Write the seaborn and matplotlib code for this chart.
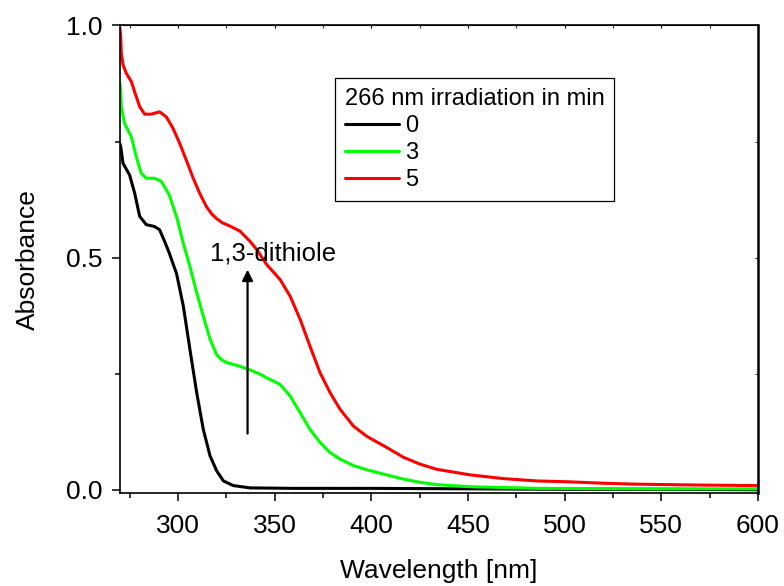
import numpy as np
import pandas as pd
import matplotlib
matplotlib.use("Agg")
import matplotlib.pyplot as plt
import seaborn as sns

# values (wavelength nm, absorbance)
wl_0 = [270.0, 270.4, 271.6, 275.0, 277.6, 280.2, 283.6, 287.9, 290.5, 293.1, 295.5, 299.3,
        302.8, 306.2, 309.7, 313.1, 316.6, 320.0, 323.5, 328.6, 337.3, 360, 400, 450, 500, 550, 600]
abs_0 = [0.745, 0.739, 0.703, 0.678, 0.639, 0.589, 0.571, 0.567, 0.560, 0.535, 0.51, 0.465,
         0.395, 0.302, 0.209, 0.130, 0.073, 0.041, 0.019, 0.009, 0.004, 0.003, 0.003, 0.002, 0.001, 0.001, 0.0]

wl_3 = [270.0, 270.4, 270.7, 272.4, 275.9, 278.4, 281.0, 283.6, 287.9, 291.4, 295.5, 299.5,
        302.8, 306.2, 309.7, 313.1, 316.6, 320.0, 322.5, 325.2, 332.1, 337.3, 342.5, 345.9, 352.8,
        358.0, 363.2, 368.3, 373.5, 378.7, 383.9, 390.8, 397.7, 408.0, 416.6, 425.3, 433.9,
        451.2, 485.7, 550, 600]
abs_3 = [0.875, 0.860, 0.825, 0.789, 0.760, 0.718, 0.682, 0.671, 0.671, 0.664, 0.635, 0.585,
         0.530, 0.481, 0.424, 0.374, 0.324, 0.291, 0.280, 0.274, 0.266, 0.258, 0.249, 0.241, 0.227,
         0.202, 0.166, 0.130, 0.102, 0.080, 0.066, 0.052, 0.043, 0.032, 0.023, 0.016, 0.011,
         0.0065, 0.003, 0.002, 0.002]

wl_5 = [270.0, 270.4, 270.7, 271.6, 273.3, 275.9, 277.6, 280.2, 282.8, 286.2, 290.5, 294.0,
        297.4, 300.9, 304.3, 307.8, 311.2, 314.7, 317.5, 320.0, 323.0, 326.9, 332.1, 337.3, 340.8, 345.9,
        352.8, 358.0, 363.2, 368.3, 373.5, 378.7, 383.9, 390.8, 397.7, 408.0, 416.6, 425.3,
        433.9, 451.2, 468.4, 485.7, 503.0, 520.2, 537.4, 571.9, 600.0]
abs_5 = [0.995, 0.976, 0.94, 0.915, 0.897, 0.879, 0.857, 0.825, 0.809, 0.809, 0.814, 0.803,
         0.779, 0.746, 0.710, 0.672, 0.639, 0.610, 0.594, 0.584, 0.575, 0.568, 0.557, 0.535, 0.517, 0.485,
         0.453, 0.417, 0.367, 0.309, 0.252, 0.209, 0.173, 0.137, 0.115, 0.091, 0.070, 0.055,
         0.044, 0.032, 0.024, 0.019, 0.017, 0.014, 0.012, 0.010, 0.009]

times = ["0", "3", "5"]
colors = ["#000000", "#00ff00", "#ff0000"]

df = pd.concat([
    pd.DataFrame({"wl": wl_0, "A": abs_0, "t": "0"}),
    pd.DataFrame({"wl": wl_3, "A": abs_3, "t": "3"}),
    pd.DataFrame({"wl": wl_5, "A": abs_5, "t": "5"}),
])

sns.set_style("ticks")
plt.rcParams["font.family"] = ["Liberation Sans", "DejaVu Sans"]
plt.rcParams["text.color"] = "black"
plt.rcParams["axes.labelcolor"] = "black"
plt.rcParams["xtick.color"] = "black"
plt.rcParams["ytick.color"] = "black"

fig = plt.figure(figsize=(7.84, 5.86), dpi=100)
ax = fig.add_axes([0.153, 0.1587, 0.8138, 0.7978])

sns.lineplot(data=df, x="wl", y="A", hue="t", hue_order=times,
             palette=dict(zip(times, colors)), linewidth=2.2, ax=ax, sort=False)
for ln in ax.lines:
    ln.set_solid_joinstyle("round")

ax.set_xlim(270, 600)
ax.set_ylim(-0.007, 1.0)
ax.set_xticks([300, 350, 400, 450, 500, 550, 600])
ax.set_xticks([275, 325, 375, 425, 475, 525, 575], minor=True)
ax.set_yticks([0.0, 0.5, 1.0])
ax.set_yticks([0.25, 0.75], minor=True)
ax.yaxis.set_major_formatter(matplotlib.ticker.FormatStrFormatter("%.1f"))
ax.tick_params(which="major", length=6, width=1.1, labelsize=19, direction="out")
ax.tick_params(which="minor", length=3.5, width=1.1, direction="out")
ax.tick_params(axis="x", which="major", pad=9)
ax.tick_params(axis="y", which="major", pad=6.5)

for s in ax.spines.values():
    s.set_linewidth(1.2)
    s.set_color("black")
ax.spines["right"].set_linewidth(1.8)

# small inward ticks on top and right
top = ax.secondary_xaxis("top")
top.set_xticks([300, 350, 400, 450, 500, 550, 600])
top.set_xticks([275, 325, 375, 425, 475, 525, 575], minor=True)
top.tick_params(which="both", direction="in", length=2, labeltop=False)
right = ax.secondary_yaxis("right")
right.set_yticks([0.0, 0.5, 1.0])
right.set_yticks([0.25, 0.75], minor=True)
right.tick_params(which="both", direction="in", length=2, labelright=False)

ax.set_xlabel("Wavelength [nm]", fontsize=19, labelpad=15)
ax.set_ylabel("Absorbance", fontsize=19, labelpad=19)

ax.annotate("", xy=(336, 0.48), xytext=(336, 0.115),
            arrowprops=dict(arrowstyle="-|>", color="black", lw=1.6, mutation_scale=16))
ax.text(349, 0.508, "1,3-dithiole", fontsize=18.5, ha="center", va="center")

handles, labels = ax.get_legend_handles_labels()
leg = ax.legend(handles, labels, title="266 nm irradiation in min", loc="upper right",
                bbox_to_anchor=(0.774, 0.887), borderaxespad=0, fontsize=17, title_fontsize=17,
                frameon=True, fancybox=False, framealpha=1, edgecolor="black",
                handlelength=2.3, handletextpad=0.25, labelspacing=0.22, borderpad=0.4)
leg.get_frame().set_linewidth(0.9)
leg._legend_box.align = "left"

fig.savefig("out.png", dpi=100)
